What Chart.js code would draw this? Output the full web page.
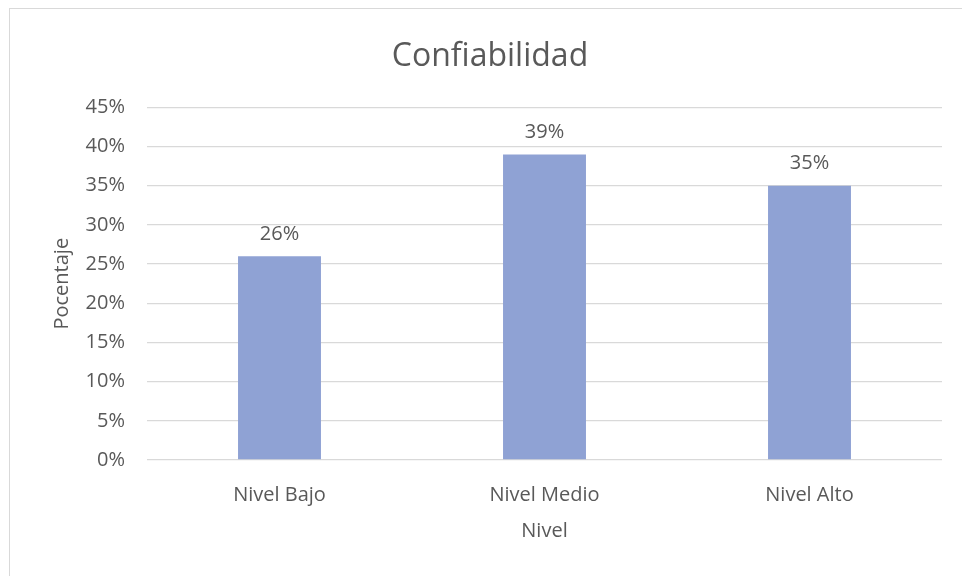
<!DOCTYPE html>
<html lang="es">
<head>
<meta charset="UTF-8">
<title>Confiabilidad</title>
<script src="https://cdn.jsdelivr.net/npm/chart.js@4.4.0/dist/chart.umd.js"></script>
<style>
  * { margin: 0; padding: 0; box-sizing: border-box; }
  html, body { width: 962px; height: 576px; overflow: hidden; background: #fff; }
  .frame {
    position: absolute; left: 9px; top: 8px; width: 1000px; height: 600px;
    border-top: 1px solid #d9d9d9; border-left: 1px solid #d9d9d9;
  }
  .wrap { position: absolute; left: 0; top: 0; width: 981px; height: 576px; }
</style>
</head>
<body>
<div class="frame"></div>
<div class="wrap"><canvas id="chart"></canvas></div>
<script>
const categories = ['Nivel Bajo', 'Nivel Medio', 'Nivel Alto'];
const percentages = [26, 39, 35];

const textColor = '#595959';
const fontFamily = '"Open Sans", sans-serif';
const labelSize = 20;

// value labels above each bar
const barLabels = {
  id: 'barLabels',
  afterDatasetsDraw(chart) {
    const ctx = chart.ctx;
    const meta = chart.getDatasetMeta(0);
    ctx.save();
    ctx.font = labelSize + 'px ' + fontFamily;
    ctx.fillStyle = textColor;
    ctx.textAlign = 'center';
    ctx.textBaseline = 'middle';
    meta.data.forEach((bar, i) => {
      ctx.fillText(percentages[i] + '%', bar.x, bar.y - 22);
    });
    ctx.restore();
  }
};

new Chart(document.getElementById('chart'), {
  type: 'bar',
  data: {
    labels: categories,
    datasets: [{
      data: percentages,
      backgroundColor: '#8fa2d4',
      categoryPercentage: 1,
      barPercentage: 0.313
    }]
  },
  options: {
    responsive: true,
    maintainAspectRatio: false,
    animation: false,
    layout: { padding: { left: 38, right: 39, top: 1, bottom: 29 } },
    plugins: {
      legend: { display: false },
      tooltip: { enabled: false },
      title: {
        display: true,
        text: 'Confiabilidad',
        color: textColor,
        font: { family: fontFamily, size: 32, weight: 'normal' },
        padding: { top: 37, bottom: 31 }
      }
    },
    scales: {
      x: {
        grid: { display: false },
        border: { display: false },
        ticks: { color: textColor, font: { family: fontFamily, size: labelSize }, padding: 15 },
        title: {
          display: true,
          text: 'Nivel',
          color: textColor,
          font: { family: fontFamily, size: labelSize },
          padding: { top: 4, bottom: 4 }
        },
        afterFit: s => { s.height = 576 - 460 - 29; }
      },
      y: {
        min: 0,
        max: 45,
        ticks: {
          stepSize: 5,
          color: textColor,
          font: { family: fontFamily, size: labelSize },
          padding: 22,
          callback: v => v + '%'
        },
        grid: { color: '#d9d9d9', lineWidth: 1.3, drawTicks: false },
        border: { display: false },
        title: {
          display: true,
          text: 'Pocentaje',
          color: textColor,
          font: { family: fontFamily, size: labelSize },
          padding: { top: 12, bottom: 4 }
        },
        afterFit: s => { s.width = 147 - 38; }
      }
    }
  },
  plugins: [barLabels]
});
</script>
</body>
</html>
